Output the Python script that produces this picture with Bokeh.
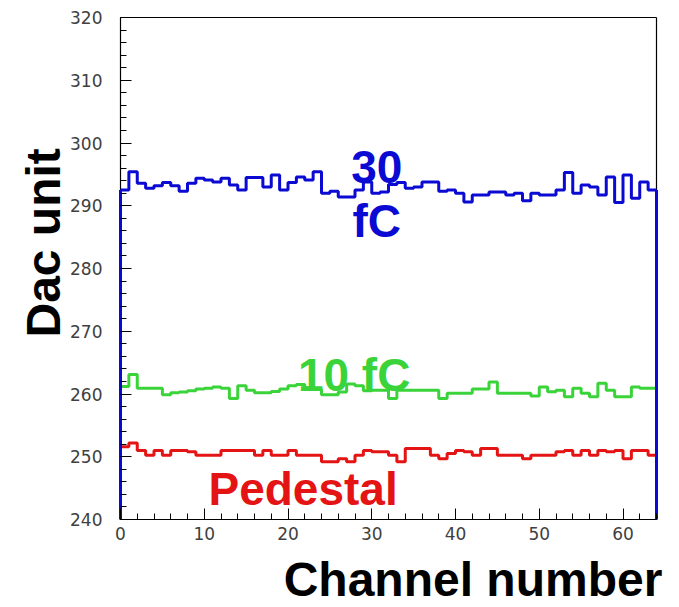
from bokeh.plotting import figure
from bokeh.models import Range1d, Label, FixedTicker
from bokeh.embed import file_html
from bokeh.resources import INLINE

channels = list(range(64))

blue_30fC = [292.5, 295.4, 293.6, 292.8, 293.2, 293.7, 293.2, 292.3, 293.6, 294.4,
             294.1, 293.8, 294.4, 293.3, 292.5, 294.5, 294.5, 293.0, 294.9, 292.5,
             293.7, 294.6, 294.1, 295.4, 292.0, 292.3, 291.4, 291.4, 292.5, 293.8,
             292.0, 292.2, 293.4, 293.7, 292.8, 293.0, 293.8, 293.8, 292.3, 292.5,
             292.0, 290.6, 291.7, 291.7, 292.2, 292.2, 291.7, 292.0, 290.8, 292.0,
             291.7, 291.7, 292.5, 295.3, 292.0, 293.3, 293.0, 291.7, 294.6, 290.5,
             294.9, 291.2, 293.8, 292.5]

green_10fC = [261.2, 263.1, 260.9, 260.9, 260.9, 259.9, 260.2, 260.3, 260.5, 260.8,
              260.9, 261.1, 260.9, 259.3, 261.3, 260.6, 260.2, 260.2, 260.4, 260.8,
              261.3, 261.5, 261.0, 260.7, 259.9, 259.9, 260.3, 261.6, 261.3, 260.5,
              260.6, 260.6, 259.3, 260.6, 260.6, 260.6, 260.6, 260.6, 259.3, 260.1,
              260.1, 260.1, 260.8, 260.8, 261.9, 260.1, 260.1, 260.1, 260.1, 259.7,
              261.1, 260.35, 260.6, 259.55, 260.9, 260.1, 259.55, 261.7, 260.6, 259.55,
              259.55, 261.1, 260.9, 260.9]

red_pedestal = [251.6, 252.2, 251.0, 250.25, 251.0, 250.25, 251.0, 251.0, 250.8, 250.25,
                250.25, 250.25, 251.0, 251.0, 251.0, 251.0, 250.25, 251.0, 250.25, 250.25,
                251.0, 250.25, 250.25, 250.25, 249.2, 249.2, 249.7, 249.2, 250.25, 251.0,
                250.8, 250.8, 250.25, 249.2, 251.3, 251.3, 251.3, 250.25, 249.7, 250.5,
                251.0, 250.8, 250.25, 251.3, 251.3, 250.25, 250.25, 250.25, 249.7, 250.25,
                250.25, 250.25, 250.8, 251.0, 250.25, 251.0, 250.25, 251.0, 250.8, 251.0,
                249.7, 251.0, 251.0, 250.25]

x_ticks = [0, 10, 20, 30, 40, 50, 60]
y_ticks = [240, 250, 260, 270, 280, 290, 300, 310, 320]
X_MIN, X_MAX = 0, 64
Y_MIN, Y_MAX = 240, 320

BLUE = "#0a0ad2"
GREEN = "#3ad43a"
RED = "#e41414"
FONT = "Liberation Sans"
FS = "46px"

# layout in pixels: axis box 536 x 502 px, starting 120 px from left and 17 px from top
W, H = 675, 607
LEFT, TOP, BOX_W, BOX_H = 120, 17, 536, 502
ux = (X_MAX - X_MIN) / BOX_W
uy = (Y_MAX - Y_MIN) / BOX_H
x_lo = X_MIN - LEFT * ux
x_hi = X_MIN + (W - LEFT) * ux
y_hi = Y_MAX + TOP * uy
y_lo = Y_MAX - (H - TOP) * uy

p = figure(width=W, height=H, output_backend="svg", toolbar_location=None,
           x_range=Range1d(x_lo, x_hi), y_range=Range1d(y_lo, y_hi),
           min_border_left=0, min_border_right=0, min_border_top=0, min_border_bottom=0)
p.background_fill_color = "white"
p.border_fill_color = "white"
p.outline_line_color = None
p.xgrid.grid_line_color = None
p.ygrid.grid_line_color = None

for ax in (p.xaxis[0], p.yaxis[0]):
    ax.axis_line_color = None
    ax.major_tick_line_color = "black"
    ax.minor_tick_line_color = "black"
    ax.major_tick_in = 11
    ax.major_tick_out = 0
    ax.minor_tick_in = 6
    ax.minor_tick_out = 0
    ax.major_label_text_font = "DejaVu Sans"
    ax.major_label_text_font_size = "17px"
    ax.major_label_text_color = "#404040"

p.xaxis.fixed_location = Y_MIN
p.yaxis.fixed_location = X_MIN
p.xaxis.ticker = FixedTicker(ticks=x_ticks, minor_ticks=list(range(X_MIN, X_MAX + 1, 2)))
p.yaxis.ticker = FixedTicker(ticks=y_ticks, minor_ticks=list(range(Y_MIN, Y_MAX + 1, 2)))
p.yaxis.major_label_standoff = 18
p.xaxis.major_label_standoff = 7

# axis frame box
p.segment(x0=[X_MIN, X_MIN], y0=[Y_MIN, Y_MAX], x1=[X_MAX, X_MAX], y1=[Y_MIN, Y_MAX],
          line_color="black", line_width=1.2)
p.segment(x0=[X_MIN, X_MAX], y0=[Y_MIN, Y_MIN], x1=[X_MIN, X_MAX], y1=[Y_MAX, Y_MAX],
          line_color="black", line_width=1.2)


def step_xy(vals):
    xs = channels + [channels[-1] + 1]
    ys = list(vals) + [vals[-1]]
    return xs, ys


for vals, col in ((red_pedestal, RED), (green_10fC, GREEN), (blue_30fC, BLUE)):
    xs, ys = step_xy(vals)
    p.step(xs, ys, mode="after", line_color=col, line_width=3)

# histogram outline edges down to the axis (blue drawn last, on top)
p.segment(x0=[channels[0], channels[-1] + 1], y0=[blue_30fC[0], blue_30fC[-1]],
          x1=[channels[0], channels[-1] + 1], y1=[Y_MIN, Y_MIN], line_color=BLUE, line_width=3)


def add_label(x, y, text, color, size=FS, align="center", angle=0.0):
    p.add_layout(Label(x=x, y=y, text=text, text_color=color, text_font=FONT,
                       text_font_size=size, text_font_style="bold", text_align=align,
                       text_baseline="alphabetic", angle=angle))


add_label(30.6, 296.1, "30", BLUE)
add_label(30.6, 287.6, "fC", BLUE)
add_label(27.9, 263.0, "10 fC", GREEN)
add_label(21.8, 244.9, "Pedestal", RED)
add_label(64.7, 230.4, "Channel number", "black", size="48px", align="right")
add_label(-9.2, 269.0, "Dac unit", "black", size="48px", align="left", angle=1.5708)

open("out.html", "w").write(file_html(p, INLINE))
